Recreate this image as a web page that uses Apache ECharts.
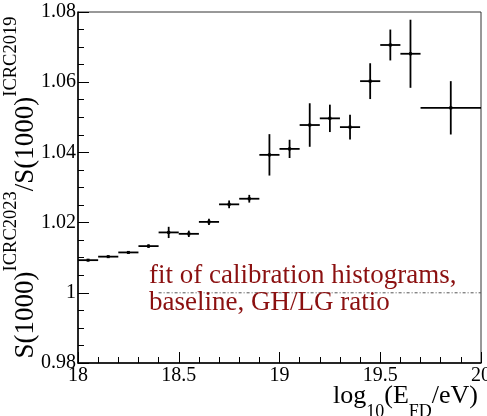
<!DOCTYPE html>
<html>
<head>
<meta charset="utf-8">
<script src="https://cdn.jsdelivr.net/npm/echarts@6/dist/echarts.min.js"></script>
<style>
  html, body { margin: 0; padding: 0; background: #ffffff; }
  #chart { width: 487px; height: 416px; }
</style>
</head>
<body>
<div id="chart"></div>
<script>
// Bin centres in log10(E_FD/eV) and their half widths
const energyBins   = [18.05, 18.15, 18.25, 18.35, 18.45, 18.55, 18.65, 18.75, 18.85,
                      18.95, 19.05, 19.15, 19.25, 19.35, 19.45, 19.55, 19.65, 19.85];
const binHalfWidth = [0.05, 0.05, 0.05, 0.05, 0.05, 0.05, 0.05, 0.05, 0.05,
                      0.05, 0.05, 0.05, 0.05, 0.05, 0.05, 0.05, 0.05, 0.15];
// S(1000) ratio between the two reconstructions and its uncertainty
const ratio    = [1.0093, 1.0103, 1.0115, 1.0133, 1.0172, 1.0168, 1.0202, 1.0252, 1.0268,
                  1.0393, 1.0410, 1.0478, 1.0497, 1.0472, 1.0603, 1.0706, 1.0681, 1.0527];
const ratioErr = [0.0003, 0.0003, 0.0004, 0.0005, 0.0016, 0.0009, 0.0009, 0.0011, 0.0011,
                  0.0059, 0.0026, 0.0062, 0.0039, 0.0035, 0.0051, 0.0044, 0.0097, 0.0076];

// Reference level drawn as a dash-dotted line
const baselineLevel = 1;
const baselineRange = [18.4, 20];

// Tick labels
const xTickLabels = ['18', '18.5', '19', '19.5', '20'];
const yTickLabels = ['0.98', '1', '1.02', '1.04', '1.06', '1.08'];

const noteLines = ['fit of calibration histograms,', 'baseline, GH/LG ratio'];

const FONT = 'Liberation Serif';

const chart = echarts.init(document.getElementById('chart'), null, { renderer: 'canvas' });

const points = energyBins.map((x, i) => [x, ratio[i], binHalfWidth[i], ratioErr[i]]);

function renderErrorCross(params, api) {
  const x = api.value(0), y = api.value(1), dx = api.value(2), dy = api.value(3);
  const c = api.coord([x, y]);
  const l = api.coord([x - dx, y]);
  const r = api.coord([x + dx, y]);
  const t = api.coord([x, y + dy]);
  const b = api.coord([x, y - dy]);
  const st = { stroke: '#000', lineWidth: 1.8 };
  return {
    type: 'group',
    children: [
      { type: 'line', shape: { x1: l[0], y1: c[1], x2: r[0], y2: c[1] }, style: st },
      { type: 'line', shape: { x1: c[0], y1: t[1], x2: c[0], y2: b[1] }, style: st },
      { type: 'rect', shape: { x: c[0] - 1.5, y: c[1] - 1.5, width: 3, height: 3 }, style: { fill: '#000' } }
    ]
  };
}

const option = {
  animation: false,
  backgroundColor: '#ffffff',
  textStyle: { fontFamily: FONT },
  grid: {
    left: 78, right: 6, top: 12, bottom: 53,
    show: true, borderColor: '#333', borderWidth: 1,
    outerBoundsMode: 'none'
  },
  xAxis: {
    type: 'value',
    min: 18, max: 20, interval: 0.5,
    axisLine: { lineStyle: { color: '#000', width: 1.5 } },
    axisTick: { inside: true, length: 11, lineStyle: { color: '#000', width: 1 } },
    minorTick: { show: true, splitNumber: 5, length: 6, lineStyle: { color: '#000', width: 1 } },
    splitLine: { show: false },
    axisLabel: {
      color: '#000', fontSize: 20, fontFamily: FONT, margin: 3,
      formatter: (v, i) => xTickLabels[i]
    },
    name: '{m|log}{s|10}{m|(E}{s|FD}{m|/eV)}',
    nameLocation: 'end',
    nameGap: -3,
    nameMoveOverlap: false,
    nameTextStyle: {
      align: 'right', verticalAlign: 'top', padding: [8, 0, 0, 0],
      color: '#000',
      rich: {
        m: { fontSize: 26, lineHeight: 50, fontFamily: FONT, color: '#000' },
        s: { fontSize: 18, lineHeight: 18, verticalAlign: 'bottom', fontFamily: FONT, color: '#000' }
      }
    }
  },
  yAxis: {
    type: 'value',
    min: 0.98, max: 1.08, interval: 0.02,
    axisLine: { show: true, lineStyle: { color: '#000', width: 1.5 } },
    axisTick: { show: true, inside: true, length: 11, lineStyle: { color: '#000', width: 1 } },
    minorTick: { show: true, splitNumber: 4, length: 6, lineStyle: { color: '#000', width: 1 } },
    splitLine: { show: false },
    axisLabel: {
      color: '#000', fontSize: 20, fontFamily: FONT, margin: 2,
      formatter: (v, i) => yTickLabels[i]
    },
    name: '{m|S(1000)}{u|ICRC2023}{m|/S(1000)}{u|ICRC2019}',
    nameLocation: 'middle',
    nameRotate: 90,
    nameGap: 52,
    nameMoveOverlap: false,
    nameTextStyle: {
      align: 'center', verticalAlign: 'middle',
      color: '#000',
      rich: {
        m: { fontSize: 27, lineHeight: 49, fontFamily: FONT, color: '#000' },
        u: { fontSize: 18.5, lineHeight: 18, verticalAlign: 'top', fontFamily: FONT, color: '#000' }
      }
    }
  },
  series: [
    {
      type: 'line',
      data: [[baselineRange[0], baselineLevel], [baselineRange[1], baselineLevel]],
      symbol: 'none',
      lineStyle: { color: '#555', width: 1, type: [3, 2, 1, 2] },
      silent: true,
      z: 1
    },
    {
      type: 'custom',
      renderItem: renderErrorCross,
      data: points,
      encode: { x: 0, y: 1 },
      clip: false,
      z: 3
    }
  ],
  graphic: [
    {
      type: 'text',
      left: 149, top: 262,
      style: {
        text: noteLines.join('\n'),
        fontFamily: FONT, fontSize: 27, lineHeight: 27.5,
        fill: '#8b1010'
      },
      z: 5
    }
  ]
};

chart.setOption(option);
</script>
</body>
</html>
